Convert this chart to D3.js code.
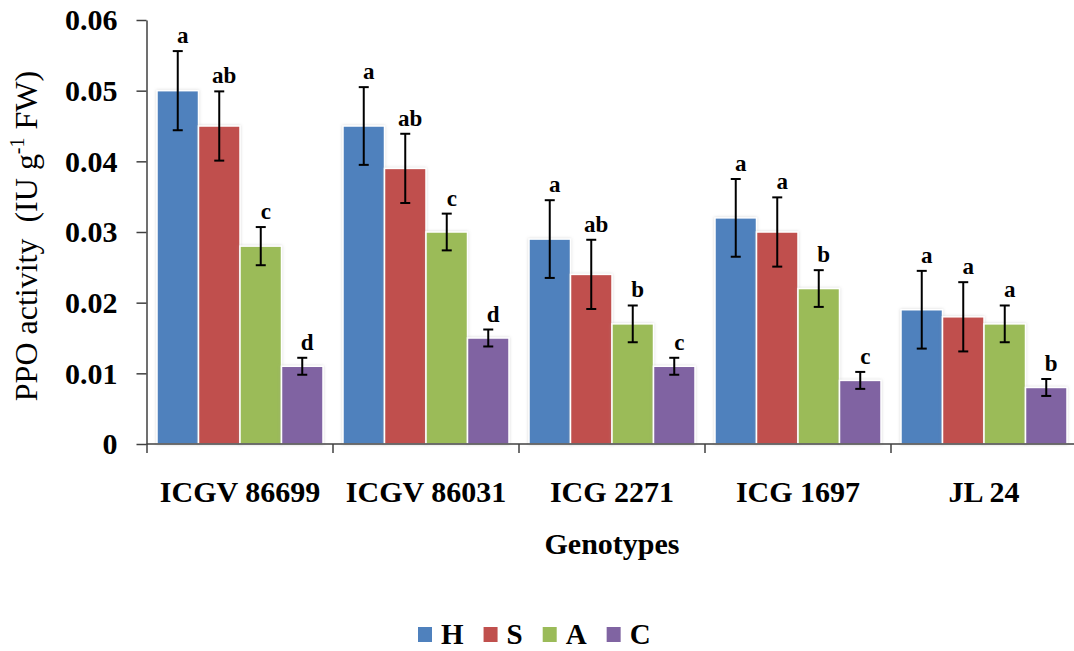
<!DOCTYPE html>
<html>
<head>
  <meta charset="utf-8">
  <title>PPO activity</title>
  <script src="https://d3js.org/d3.v7.min.js"></script>
  <style>
    body { margin: 0; background: #fff; }
    text { font-family: "Liberation Serif", "Times New Roman", serif; }
  </style>
</head>
<body>
  <script>
    // data
    const genotypes = ['ICGV 86699', 'ICGV 86031', 'ICG 2271', 'ICG 1697', 'JL 24'];
    const treatments = ['H', 'S', 'A', 'C'];
    const H = [0.050, 0.045, 0.029, 0.032, 0.019];
    const S = [0.045, 0.039, 0.024, 0.030, 0.018];
    const A = [0.028, 0.030, 0.017, 0.022, 0.017];
    const C = [0.011, 0.015, 0.011, 0.009, 0.008];
    const errH = [0.0056, 0.0055, 0.0055, 0.0055, 0.0055];
    const errS = [0.0049, 0.0049, 0.0049, 0.0049, 0.0049];
    const errA = [0.0027, 0.0026, 0.0026, 0.0026, 0.0026];
    const errC = [0.0012, 0.0012, 0.0012, 0.0012, 0.0012];
    const letH = ['a', 'a', 'a', 'a', 'a'];
    const letS = ['ab', 'ab', 'ab', 'a', 'a'];
    const letA = ['c', 'c', 'b', 'b', 'a'];
    const letC = ['d', 'd', 'c', 'c', 'b'];
    const yTicks = [0, 0.01, 0.02, 0.03, 0.04, 0.05, 0.06];
    const colors = ['#4F81BD', '#C0504D', '#9BBB59', '#8064A2'];

    const values = {H: H, S: S, A: A, C: C};
    const errors = {H: errH, S: errS, A: errA, C: errC};
    const letters = {H: letH, S: letS, A: letA, C: letC};

    let width = 1074;
    let height = 651;

    let svg = d3.select('body')
      .append('svg')
      .attr('width', width)
      .attr('height', height);

    // soft grey edge around bars
    let defs = svg.append('defs');
    let f = defs.append('filter').attr('id', 'glow')
      .attr('x', '-20%').attr('y', '-5%').attr('width', '140%').attr('height', '110%');
    f.append('feDropShadow')
      .attr('dx', 0).attr('dy', 0).attr('stdDeviation', 1.6)
      .attr('flood-color', '#999').attr('flood-opacity', 0.4);

    var y = d3.scaleLinear().domain([0, 0.06]).range([444, 20]);
    var x0 = d3.scaleBand().domain(genotypes).range([147, 1077]);
    var x1 = d3.scaleBand().domain(treatments).range([10, x0.bandwidth() - 10]);
    var color = d3.scaleOrdinal().domain(treatments).range(colors);

    // bars
    let groups = svg.selectAll('g.grp')
      .data(genotypes)
      .enter()
      .append('g')
      .attr('class', 'grp')
      .attr('transform', d => 'translate(' + x0(d) + ',0)');

    groups.selectAll('rect')
      .data((g, gi) => treatments.map(t => ({t: t, v: values[t][gi]})))
      .enter()
      .append('rect')
      .attr('x', d => x1(d.t))
      .attr('y', d => y(d.v))
      .attr('width', x1.bandwidth())
      .attr('height', d => y(0) - y(d.v))
      .attr('fill', d => color(d.t))
      .attr('stroke', '#fff')
      .attr('stroke-width', 1.5)
      .attr('filter', 'url(#glow)');

    // axes
    var yAxis = d3.axisLeft(y)
      .tickValues(yTicks)
      .tickFormat(d => d === 0 ? '0' : d.toFixed(2))
      .tickSize(10)
      .tickSizeOuter(0)
      .tickPadding(19);

    let gy = svg.append('g').attr('transform', 'translate(146.5,0)').call(yAxis);
    gy.select('.domain').attr('stroke', '#404040').attr('stroke-width', 1.5);
    gy.selectAll('.tick line').attr('stroke', '#404040').attr('stroke-width', 1.5);
    gy.selectAll('.tick text')
      .attr('font-size', 30)
      .attr('font-weight', 'bold')
      .attr('fill', '#000')
      .attr('dy', '0.33em');

    svg.append('line')
      .attr('x1', 146.5).attr('x2', width)
      .attr('y1', y(0)).attr('y2', y(0))
      .attr('stroke', '#404040').attr('stroke-width', 1.5);

    svg.selectAll('line.xtick')
      .data(genotypes.map(g => x0(g)).concat([x0.range()[1]]))
      .enter()
      .append('line')
      .attr('class', 'xtick')
      .attr('x1', d => d).attr('x2', d => d)
      .attr('y1', y(0)).attr('y2', y(0) + 9)
      .attr('stroke', '#404040').attr('stroke-width', 1.5);

    svg.selectAll('text.xlab')
      .data(genotypes)
      .enter()
      .append('text')
      .attr('class', 'xlab')
      .attr('x', d => x0(d) + x0.bandwidth() / 2)
      .attr('y', 502)
      .attr('text-anchor', 'middle')
      .attr('font-size', 30)
      .attr('font-weight', 'bold')
      .text(d => d);

    // error bars and letters
    let cells = groups.selectAll('g.err')
      .data((g, gi) => treatments.map(t => ({t: t, v: values[t][gi], e: errors[t][gi], l: letters[t][gi]})))
      .enter()
      .append('g')
      .attr('class', 'err')
      .attr('transform', d => 'translate(' + (x1(d.t) + x1.bandwidth() / 2) + ',0)');

    cells.append('line')
      .attr('x1', 0).attr('x2', 0)
      .attr('y1', d => y(d.v + d.e)).attr('y2', d => y(d.v - d.e))
      .attr('stroke', '#000').attr('stroke-width', 2);
    cells.append('line')
      .attr('x1', -5).attr('x2', 5)
      .attr('y1', d => y(d.v + d.e)).attr('y2', d => y(d.v + d.e))
      .attr('stroke', '#000').attr('stroke-width', 2);
    cells.append('line')
      .attr('x1', -5).attr('x2', 5)
      .attr('y1', d => y(d.v - d.e)).attr('y2', d => y(d.v - d.e))
      .attr('stroke', '#000').attr('stroke-width', 2);
    cells.append('text')
      .attr('x', 5)
      .attr('y', d => y(d.v + d.e) - 8)
      .attr('text-anchor', 'middle')
      .attr('font-size', 23)
      .attr('font-weight', 'bold')
      .text(d => d.l);

    // axis titles
    svg.append('text')
      .attr('x', 612)
      .attr('y', 554)
      .attr('text-anchor', 'middle')
      .attr('font-size', 30)
      .attr('font-weight', 'bold')
      .text('Genotypes');

    let yt = svg.append('text')
      .attr('transform', 'translate(37,236) rotate(-90)')
      .attr('text-anchor', 'middle')
      .attr('font-size', 32);
    yt.append('tspan').text('PPO activity\u00a0\u00a0(IU g');
    yt.append('tspan').attr('font-size', 20).attr('dy', -13).text('-1');
    yt.append('tspan').attr('dy', 13).text(' FW)');

    // legend
    let legend = svg.append('g');
    let lx = 418;
    treatments.forEach((t, i) => {
      legend.append('rect')
        .attr('x', lx).attr('y', 627)
        .attr('width', 14).attr('height', 15)
        .attr('fill', colors[i]);
      let tx = legend.append('text')
        .attr('x', lx + 23).attr('y', 644)
        .attr('font-size', 29)
        .attr('font-weight', 'bold')
        .text(t);
      lx += 23 + tx.node().getComputedTextLength() + 20;
    });
  </script>
</body>
</html>
